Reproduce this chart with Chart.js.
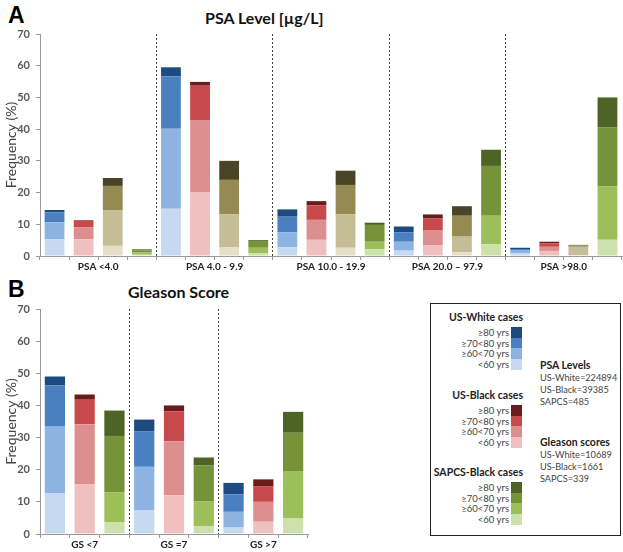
<!DOCTYPE html>
<html>
<head>
<meta charset="utf-8">
<script src="https://cdn.jsdelivr.net/npm/chart.js@4/dist/chart.umd.min.js"></script>
<style>
  html, body { margin: 0; padding: 0; background: #fff; overflow: hidden; }
  #page { position: relative; width: 623px; height: 552px; font-family: Lato, "Open Sans", sans-serif; color: #222; }
  .abs { position: absolute; white-space: nowrap; }
  .panel { position: absolute; }
  .big { font-weight: bold; font-size: 23px; color: #000; font-family: "Liberation Sans", Arial, sans-serif; }
  .ttl { font-weight: bold; font-size: 16px; color: #111; }
  .hdr { font-weight: bold; font-size: 10.5px; line-height: 14px; color: #222; }
  .row { font-size: 9.5px; line-height: 11px; color: #444; }
  .note { font-size: 9.2px; line-height: 12px; color: #444; }
  .sw { position: absolute; width: 11px; }
</style>
</head>
<body>
<div id="page">
  <div class="abs big" style="left:8px; top:2px;">A</div>
  <div class="abs ttl" style="left:205px; top:8px;">PSA Level [µg/L]</div>
  <div class="abs big" style="left:8px; top:276px;">B</div>
  <div class="abs ttl" style="left:128px; top:282px;">Gleason Score</div>

  <div class="panel" style="left:0; top:0; width:623px; height:274px;"><canvas id="psaChart"></canvas></div>
  <div class="panel" style="left:0; top:270px; width:320px; height:282px;"><canvas id="gsChart"></canvas></div>

  <div class="abs" style="left:430px; top:303px; width:189px; height:231px; border:1.5px solid #222;"></div>
  <div id="legend"></div>
</div>

<script>
  // age bands, bottom to top of each stack
  const ageBands = ["<60 yrs", "≥60<70 yrs", "≥70<80 yrs", "≥80 yrs"];

  const psaGroups = ["PSA <4.0", "PSA 4.0 - 9.9", "PSA 10.0 - 19.9", "PSA 20.0 – 97.9", "PSA >98.0"];
  const gsGroups = ["GS <7", "GS =7", "GS >7"];

  // frequency (%) per age band, one value per group
  const psaWhite = [
    [5.3, 14.9, 2.7, 1.7, 0.9],
    [5.3, 25.2, 4.8, 2.8, 0.8],
    [3.2, 16.6, 4.9, 3.0, 0.5],
    [0.7, 2.8, 2.3, 1.8, 0.4],
  ];
  const psaBlack = [
    [5.3, 20.0, 5.1, 3.3, 1.6],
    [3.8, 22.7, 6.3, 4.7, 1.3],
    [2.0, 11.0, 4.6, 3.8, 1.1],
    [0.2, 1.2, 1.3, 1.3, 0.5],
  ];
  const psaOlive = [
    [3.2, 2.7, 2.6, 1.2, 0.3],
    [11.3, 10.5, 10.6, 4.9, 2.6],
    [7.6, 10.8, 9.2, 6.6, 0.4],
    [2.5, 6.0, 4.5, 3.0, 0.2],
  ];
  const psaSapcs = [
    [0.4, 0.8, 2.1, 3.7, 5.1],
    [0.7, 1.8, 2.4, 9.0, 16.8],
    [0.6, 1.9, 5.3, 15.7, 18.6],
    [0.4, 0.5, 0.7, 5.1, 9.5],
  ];

  const gsWhite = [
    [12.6, 7.3, 2.0],
    [20.8, 13.6, 4.9],
    [12.8, 11.1, 5.4],
    [2.8, 3.6, 3.6],
  ];
  const gsBlack = [
    [15.4, 12.1, 3.8],
    [18.7, 16.7, 6.2],
    [7.9, 9.4, 4.9],
    [1.4, 1.8, 2.1],
  ];
  const gsSapcs = [
    [3.6, 2.5, 4.8],
    [9.4, 7.6, 14.8],
    [17.5, 11.2, 11.9],
    [7.9, 2.5, 6.5],
  ];

  const yTicks = [0, 10, 20, 30, 40, 50, 60, 70];

  const blueShades = ["#c6d9f1", "#8db3e2", "#4a7fc0", "#1d4a80"];
  const redShades = ["#f0c0c1", "#dd8f8f", "#c8494b", "#6a1b1b"];
  const oliveShades = ["#e4dfc6", "#c5bd96", "#948a52", "#4a4427"];
  const greenShades = ["#cde1ad", "#9dbf59", "#76933a", "#4e6427"];

  const font = "Lato, 'Open Sans', sans-serif";

  function buildDatasets(pops, shades, nGroups) {
    return ageBands.map((band, a) => {
      const data = [];
      const colors = [];
      for (let g = 0; g < nGroups; g++) {
        pops.forEach((pop, p) => {
          data.push(pop[a][g]);
          colors.push(shades[p][a]);
        });
      }
      return {
        label: band,
        data,
        backgroundColor: colors,
        borderWidth: 0,
        barPercentage: 0.68,
        categoryPercentage: 1,
        xAxisID: "x",
      };
    });
  }

  function makeChart(id, groups, pops, shades, padding) {
    const slots = [];
    groups.forEach((g) => pops.forEach(() => slots.push("")));
    const lastIdx = groups.length;

    return new Chart(document.getElementById(id), {
      type: "bar",
      data: {
        labels: slots,
        datasets: buildDatasets(pops, shades, groups.length),
      },
      options: {
        responsive: true,
        maintainAspectRatio: false,
        animation: false,
        layout: { padding },
        plugins: { legend: { display: false }, tooltip: { enabled: false } },
        scales: {
          x: {
            stacked: true,
            weight: 0,
            offset: true,
            ticks: { display: false },
            grid: { offset: true, drawOnChartArea: false, tickLength: 4, color: "#9a9a9a" },
            border: { color: "#9a9a9a", width: 1 },
          },
          x2: {
            type: "category",
            labels: groups,
            position: "bottom",
            weight: 1,
            offset: true,
            grid: {
              offset: true,
              drawTicks: false,
              lineWidth: 1,
              borderDash: [2, 2],
              color: (ctx) => (ctx.index > 0 && ctx.index < lastIdx ? "#444" : "rgba(0,0,0,0)"),
            },
            border: { display: false, dash: [2, 2] },
            ticks: { font: { family: font, size: 10, weight: "bold" }, color: "#222", padding: 1 },
          },
          y: {
            stacked: true,
            min: 0,
            max: 70,
            afterBuildTicks: (scale) => {
              scale.ticks = yTicks.map((v) => ({ value: v }));
            },
            afterFit: (scale) => {
              scale.width = 40;
            },
            ticks: { font: { family: font, size: 11, weight: "bold" }, color: "#595959", padding: 6 },
            grid: { drawOnChartArea: false, tickLength: 4, color: "#9a9a9a" },
            border: { color: "#9a9a9a", width: 1 },
            title: {
              display: true,
              text: "Frequency (%)",
              font: { family: font, size: 14 },
              color: "#444",
              padding: { top: 3, bottom: 0 },
            },
          },
        },
      },
    });
  }

  makeChart("psaChart", psaGroups, [psaWhite, psaBlack, psaOlive, psaSapcs],
    [blueShades, redShades, oliveShades, greenShades], { top: 34, right: 1, left: 0, bottom: 0 });
  makeChart("gsChart", gsGroups, [gsWhite, gsBlack, gsSapcs],
    [blueShades, redShades, greenShades], { top: 39, right: 12, left: 0, bottom: 0 });

  // legend box
  const legendSections = [
    { title: "US-White cases", shades: blueShades, top: 310 },
    { title: "US-Black cases", shades: redShades, top: 388 },
    { title: "SAPCS-Black cases", shades: greenShades, top: 465 },
  ];
  const sampleNotes = [
    { title: "PSA Levels", lines: ["US-White=224894", "US-Black=39385", "SAPCS=485"], top: 358 },
    { title: "Gleason scores", lines: ["US-White=10689", "US-Black=1661", "SAPCS=339"], top: 435 },
  ];

  const legend = document.getElementById("legend");
  const add = (html) => legend.insertAdjacentHTML("beforeend", html);

  legendSections.forEach((sec) => {
    add(`<div class="abs hdr" style="right:${623 - 523}px; top:${sec.top}px;">${sec.title}</div>`);
    const order = [3, 2, 1, 0];
    order.forEach((a, i) => {
      const y = sec.top + 17 + i * 10.7;
      add(`<div class="abs row" style="right:${623 - 509}px; top:${y}px;">${ageBands[a]}</div>`);
      add(`<div class="sw" style="left:511px; top:${y}px; height:10.7px; background:${sec.shades[a]};"></div>`);
    });
  });

  sampleNotes.forEach((n) => {
    add(`<div class="abs hdr" style="left:540px; top:${n.top}px;">${n.title}</div>`);
    n.lines.forEach((line, i) => {
      add(`<div class="abs note" style="left:540px; top:${n.top + 14 + i * 12}px;">${line}</div>`);
    });
  });
</script>
</body>
</html>
